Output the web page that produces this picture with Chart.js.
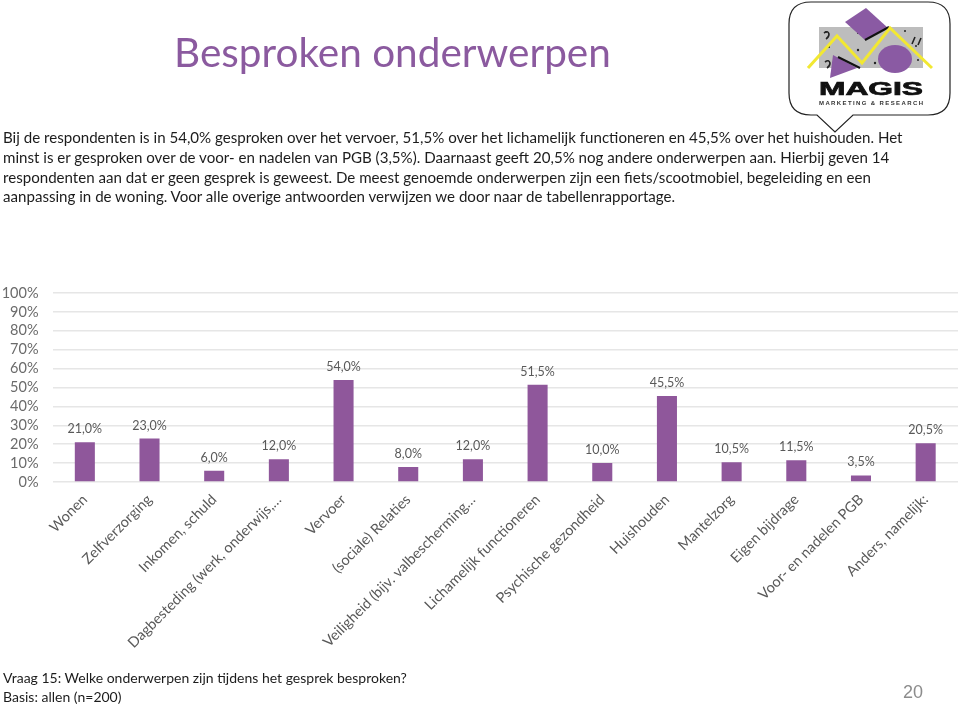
<!DOCTYPE html>
<html lang="nl"><head><meta charset="utf-8">
<script src="https://cdn.jsdelivr.net/npm/chart.js@4"></script>
<style>
html,body{margin:0;padding:0;background:#fff;width:960px;height:706px;overflow:hidden}
#wrap{position:relative;width:960px;height:706px;font-family:Lato,sans-serif;color:#1c1c1c}
canvas{position:absolute;left:0;top:0}
.t{position:absolute;white-space:nowrap}
#title{left:174px;top:27px;font-size:40.5px;line-height:50px;color:#8B5A9F;font-weight:400}
.body{left:3px;font-size:15.1px;line-height:20px}
.foot{left:3px;font-size:14px;line-height:19px}
#page{left:903px;top:682px;font:18px "Liberation Sans",sans-serif;color:#8c8c8c}
#logo{position:absolute;left:785px;top:0}
</style></head><body>
<div id="wrap">
<canvas id="c" width="960" height="706"></canvas>
<div id="title" class="t">Besproken onderwerpen</div>
<div class="t body" style="top:127px">Bij de respondenten is in 54,0% gesproken over het vervoer, 51,5% over het lichamelijk functioneren en 45,5% over het huishouden. Het</div>
<div class="t body" style="top:147px">minst is er gesproken over de voor- en nadelen van PGB (3,5%). Daarnaast geeft 20,5% nog andere onderwerpen aan. Hierbij geven 14</div>
<div class="t body" style="top:167px">respondenten aan dat er geen gesprek is geweest. De meest genoemde onderwerpen zijn een fiets/scootmobiel, begeleiding en een</div>
<div class="t body" style="top:186px">aanpassing in de woning. Voor alle overige antwoorden verwijzen we door naar de tabellenrapportage.</div>
<svg id="logo" width="175" height="135" viewBox="785 0 175 135">
<path d="M811 2H928Q950 2 950 24V93Q950 115 928 115H853L835 132L817 115H811Q789 115 789 93V24Q789 2 811 2Z" fill="#fff" stroke="#222" stroke-width="1.2"/>
<rect x="819" y="27" width="104" height="41" fill="#bdbdbd"/>
<g fill="#222"><circle cx="826" cy="32" r="1"/><circle cx="858" cy="33" r="1"/><circle cx="905" cy="31" r="1"/><circle cx="916" cy="46" r="1"/><circle cx="829" cy="47" r="1"/><circle cx="858" cy="50" r="1.2"/><circle cx="875" cy="63" r="1.2"/><circle cx="918" cy="60" r="1"/></g>
<path d="M824 33q4-3 5 1q0 3-3 5M825 62q4-3 5 1q0 3-3 5M915 37l-3 7M921 38l-3 7" fill="none" stroke="#222" stroke-width="1.6"/>
<path d="M845 22L866 8L888 28L865 40Z" fill="#8a5aa3"/>
<path d="M865 40L889 27" stroke="#111" stroke-width="2"/>
<path d="M833 55L857 68L830 78Z" fill="#8a5aa3"/>
<path d="M838 57L860 68" stroke="#111" stroke-width="2"/>
<ellipse cx="895" cy="59" rx="17" ry="14" fill="#8a5aa3"/>
<path d="M808 68L837 36L862 63L890 28L932 68" fill="none" stroke="#f2e832" stroke-width="3"/>
<text x="819" y="95" font-family="Liberation Sans" font-weight="700" font-size="18" textLength="104" lengthAdjust="spacingAndGlyphs" stroke="#111" stroke-width=".7" fill="#111">MAGIS</text>
<text x="819" y="105" font-family="Liberation Sans" font-weight="700" font-size="6" textLength="104" fill="#333">MARKETING &amp; RESEARCH</text>
</svg>
<div class="t foot" style="top:668px">Vraag 15: Welke onderwerpen zijn tijdens het gesprek besproken?</div>
<div class="t foot" style="top:687px">Basis: allen (n=200)</div>
<div id="page" class="t">20</div>
</div>
<script>
const categories = ["Wonen","Zelfverzorging","Inkomen, schuld","Dagbesteding (werk, onderwijs,…","Vervoer","(sociale) Relaties","Veiligheid (bijv. valbescherming…","Lichamelijk functioneren","Psychische gezondheid","Huishouden","Mantelzorg","Eigen bijdrage","Voor- en nadelen PGB","Anders, namelijk:"];
const values = [21.0,23.0,6.0,12.0,54.0,8.0,12.0,51.5,10.0,45.5,10.5,11.5,3.5,20.5];

const valueLabels = {
  id:'valueLabels',
  afterDatasetsDraw(chart){
    const ctx = chart.ctx;
    const meta = chart.getDatasetMeta(0);
    ctx.save();
    ctx.font = '12.5px Lato, sans-serif';
    ctx.fillStyle = '#595959';
    ctx.textAlign = 'center';
    ctx.textBaseline = 'alphabetic';
    meta.data.forEach((bar,i)=>{
      ctx.fillText(values[i].toFixed(1).replace('.',',')+'%', bar.x, bar.y-9);
    });
    ctx.restore();
  }
};

new Chart(document.getElementById('c'),{
  type:'bar',
  data:{labels:categories,datasets:[{data:values,backgroundColor:'#8F579B',borderWidth:0,barPercentage:0.31,categoryPercentage:1}]},
  plugins:[valueLabels],
  options:{
    responsive:false,animation:false,
    layout:{padding:{left:0,right:2,top:293,bottom:0}},
    plugins:{legend:{display:false},tooltip:{enabled:false}},
    scales:{
      x:{
        grid:{display:false},border:{display:false},
        afterFit(s){s.height=224;},
        ticks:{autoSkip:false,minRotation:45,maxRotation:45,padding:1,color:'#595959',font:{family:'Lato',size:14.5}}
      },
      y:{
        min:0,max:100,
        afterFit(s){s.width=52.5;},
        grid:{color:'#e6e6e6',lineWidth:1.5,drawTicks:false},border:{display:false},
        ticks:{stepSize:10,autoSkip:false,padding:14,color:'#6b6b6b',font:{family:'Lato',size:14.5},callback:v=>v+'%'}
      }
    }
  }
});
</script>
</body></html>
